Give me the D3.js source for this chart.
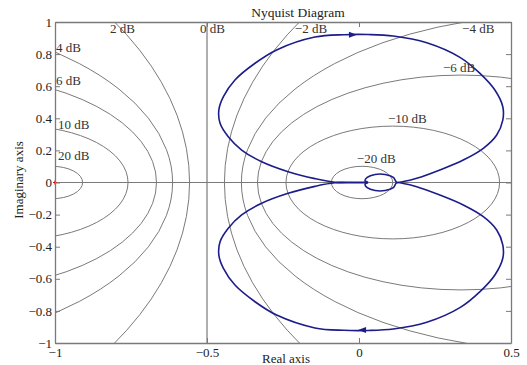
<!DOCTYPE html>
<html>
<head>
<meta charset="utf-8">
<script src="https://cdn.jsdelivr.net/npm/d3@7"></script>
<style>
  body { margin: 0; background: #fff; }
  svg { display: block; font-family: "Liberation Serif", "Times New Roman", serif; }
</style>
</head>
<body>
<svg id="chart" width="527" height="365"></svg>
<script>
// M-circle levels (closed-loop magnitude, dB)
var dbLevels = [20, 10, 6, 4, 2, 0, -2, -4, -6, -10, -20];
var dbLabels = ["20 dB", "10 dB", "6 dB", "4 dB", "2 dB", "0 dB", "\u22122 dB", "\u22124 dB", "\u22126 dB", "\u221210 dB", "\u221220 dB"];
// where each label sits (data coords, left / baseline)
var labelAt = [[-0.99, 0.14], [-0.99, 0.333], [-0.997, 0.607], [-0.997, 0.813], [-0.819, 0.931], [-0.523, 0.931],
               [-0.211, 0.931], [0.339, 0.931], [0.276, 0.688], [0.095, 0.371], [-0.007, 0.121]];

// Nyquist curve, upper half; lower half is its mirror
var nyqRe = [0.03, -0.02, -0.079, -0.145, -0.233, -0.32, -0.386, -0.43, -0.457, -0.461, -0.446, -0.408, -0.342, -0.271,
             -0.145, -0.05, 0.03, 0.113, 0.223, 0.332, 0.398, 0.447, 0.473, 0.473, 0.453, 0.409, 0.343, 0.266, 0.19, 0.146, 0.124,
             0.113, 0.086, 0.053, 0.027, 0.02, 0.03];
var nyqIm = [0.002, 0.002, 0.002, 0.024, 0.067, 0.129, 0.202, 0.285, 0.369, 0.452, 0.535, 0.639, 0.743, 0.826,
             0.906, 0.921, 0.922, 0.913, 0.871, 0.78, 0.68, 0.576, 0.472, 0.389, 0.296, 0.213, 0.14, 0.078, 0.026, 0.006, 0.002,
             0.032, 0.05, 0.05, 0.032, 0.011, 0.002];
// direction arrows: [re, im, direction]
var arrows = [[-0.02, 0.921, 1], [0.01, -0.919, -1]];

var xTicks = [-1, -0.5, 0, 0.5];
var yTicks = [-1, -0.8, -0.6, -0.4, -0.2, 0, 0.2, 0.4, 0.6, 0.8, 1];

var svg = d3.select('#chart');
var x = d3.scaleLinear().domain([-1, 0.5]).range([55, 511]);
var y = d3.scaleLinear().domain([-1, 1]).range([343, 22]);
var gray = '#7a7a7a';
var fmt = d3.format('~g');

svg.append('clipPath').attr('id', 'clip')
  .append('rect')
    .attr('x', x(-1)).attr('y', y(1))
    .attr('width', x(0.5) - x(-1)).attr('height', y(-1) - y(1));

var plot = svg.append('g').attr('clip-path', 'url(#clip)');

// M-circles
dbLevels.forEach(function(db) {
  var M = Math.pow(10, db / 20);
  if (db === 0) {
    plot.append('line')
      .attr('x1', x(-0.5)).attr('x2', x(-0.5))
      .attr('y1', y(-1)).attr('y2', y(1))
      .attr('stroke', gray).attr('stroke-width', 1.2);
    return;
  }
  var c = -M * M / (M * M - 1);
  var r = Math.abs(M / (M * M - 1));
  plot.append('ellipse')
    .attr('cx', x(c)).attr('cy', y(0))
    .attr('rx', x(c + r) - x(c)).attr('ry', y(0) - y(r))
    .attr('fill', 'none').attr('stroke', gray).attr('stroke-width', 1);
});

// real axis
plot.append('line')
  .attr('x1', x(-1)).attr('x2', x(0.5))
  .attr('y1', y(0)).attr('y2', y(0))
  .attr('stroke', gray).attr('stroke-width', 1.2);

// labels
dbLabels.forEach(function(t, i) {
  svg.append('text')
    .attr('x', x(labelAt[i][0])).attr('y', y(labelAt[i][1]))
    .attr('font-size', 13).attr('fill', '#333')
    .text(t);
});

// Nyquist curve
var pts = nyqRe.map(function(d, i) { return [d, nyqIm[i]]; });
var line = d3.line()
  .x(function(d) { return x(d[0]); })
  .y(function(d) { return y(d[1]); })
  .curve(d3.curveCatmullRom.alpha(0.5));
var blue = '#1c1c8a';
plot.append('path').attr('d', line(pts))
  .attr('fill', 'none').attr('stroke', blue).attr('stroke-width', 1.6);
plot.append('path').attr('d', line(pts.map(function(d) { return [d[0], -d[1]]; })))
  .attr('fill', 'none').attr('stroke', blue).attr('stroke-width', 1.6);

arrows.forEach(function(a) {
  var px = x(a[0]), py = y(a[1]), s = a[2];
  svg.append('path')
    .attr('d', 'M' + (px + 4 * s) + ',' + py + 'L' + (px - 4 * s) + ',' + (py - 3) + 'L' + (px - 4 * s) + ',' + (py + 3) + 'Z')
    .attr('fill', blue);
});

// critical point marker
svg.append('path')
  .attr('d', 'M' + (x(-1) - 2) + ',' + y(0) + 'h4M' + x(-1) + ',' + (y(0) - 2) + 'v4')
  .attr('stroke', '#e00000').attr('stroke-width', 1.2);

// axes
function styleAxis(g) {
  g.selectAll('path.domain').attr('stroke', gray).attr('stroke-width', 1.3);
  g.selectAll('.tick line').attr('stroke', gray);
  g.selectAll('.tick text').attr('fill', '#222').attr('font-size', 13)
    .attr('font-family', '"Liberation Serif", serif');
}
svg.append('g').attr('transform', 'translate(0,' + y(-1) + ')')
  .call(d3.axisBottom(x).tickValues(xTicks).tickFormat(fmt).tickSize(-5).tickSizeOuter(0).tickPadding(5))
  .call(styleAxis);
svg.append('g').attr('transform', 'translate(0,' + y(1) + ')')
  .call(d3.axisTop(x).tickValues(xTicks).tickFormat('').tickSize(-5).tickSizeOuter(0))
  .call(styleAxis);
svg.append('g').attr('transform', 'translate(' + x(-1) + ',0)')
  .call(d3.axisLeft(y).tickValues(yTicks).tickFormat(fmt).tickSize(-5).tickSizeOuter(0).tickPadding(3))
  .call(styleAxis);
svg.append('g').attr('transform', 'translate(' + x(0.5) + ',0)')
  .call(d3.axisRight(y).tickValues(yTicks).tickFormat('').tickSize(-5).tickSizeOuter(0))
  .call(styleAxis);

// titles
svg.append('text').attr('x', 298).attr('y', 17).attr('text-anchor', 'middle')
  .attr('font-size', 13.5).attr('fill', '#222').text('Nyquist Diagram');
svg.append('text').attr('x', 286).attr('y', 363).attr('text-anchor', 'middle')
  .attr('font-size', 13).attr('fill', '#222').text('Real axis');
svg.append('text').attr('transform', 'translate(23,180) rotate(-90)').attr('text-anchor', 'middle')
  .attr('font-size', 13).attr('fill', '#222').text('Imaginary axis');
</script>
</body>
</html>
